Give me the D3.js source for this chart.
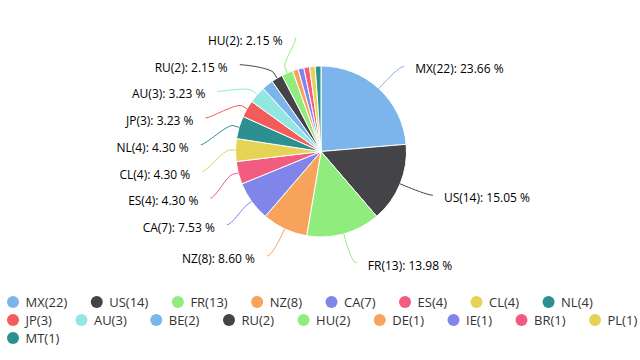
<!DOCTYPE html>
<html><head><meta charset="utf-8">
<script src="https://cdn.jsdelivr.net/npm/d3@7"></script>
<style>body{margin:0;background:#fff} svg{display:block}</style>
</head><body><svg id="chart" width="640" height="360"></svg>
<script>
// ---- data ----
const categories = ["MX","US","FR","NZ","CA","ES","CL","NL","JP","AU","BE","RU","HU","DE","IE","BR","PL","MT"];
const values = [22,14,13,8,7,4,4,4,3,3,2,2,2,1,1,1,1,1];
const palette = ["#7cb5ec","#434348","#90ed7d","#f7a35c","#8085e9","#f15c80","#e4d354","#2b908f","#f45b5b","#91e8e1"];

// ---- layout ----
const W = 640, H = 360;
const cx = 321, cy = 151.5, r = 85.5;
const labelDist = 30, R = r + labelDist;
const slot = 26.7;
const labelMin = 38, labelMax = 267;
const font = "'Open Sans', sans-serif";

const svg = d3.select("#chart");
const total = d3.sum(values);
const data = categories.map((c, i) => ({name: c, value: values[i], index: i, color: palette[i % palette.length]}));
const arcs = d3.pie().value(d => d.value).sort(null)(data);
const arcGen = d3.arc().innerRadius(0).outerRadius(r);

const gPie = svg.append("g").attr("transform", `translate(${cx},${cy})`);
gPie.selectAll("path").data(arcs).join("path")
  .attr("d", arcGen)
  .attr("fill", d => d.data.color)
  .attr("stroke", "#fff").attr("stroke-width", 1).attr("stroke-linejoin", "round");

// label geometry
const labels = arcs.map(a => {
  const mid = (a.startAngle + a.endAngle) / 2;
  const s = Math.sin(mid), c = Math.cos(mid);
  return {
    d: a.data,
    left: mid > Math.PI,
    target: cy - c * R,
    touch: [cx + s * r, cy - c * r],
    brk: [cx + s * (r + labelDist / 5), cy - c * (r + labelDist / 5)]
  };
});

function distribute(items) {
  const L = labelMax - labelMin + slot;
  const cap = Math.floor(L / slot);
  const ranked = items.slice().sort((a, b) => b.d.value - a.d.value); // stable
  ranked.forEach((it, i) => it.visible = i < cap);
  const kept = items.filter(it => it.visible).sort((a, b) => a.target - b.target);
  let groups = kept.map(it => ({items: [it]}));
  const topB = labelMin - slot / 2, botB = labelMax + slot / 2;
  const place = g => {
    const n = g.items.length;
    const mean = d3.mean(g.items, it => it.target);
    let top = mean - n * slot / 2;
    top = Math.max(topB, Math.min(top, botB - n * slot));
    g.top = top;
  };
  groups.forEach(place);
  let changed = true;
  while (changed) {
    changed = false;
    for (let i = 0; i < groups.length - 1; i++) {
      const a = groups[i], b = groups[i + 1];
      if (a.top + a.items.length * slot > b.top + 0.01) {
        const m = {items: a.items.concat(b.items)};
        place(m);
        groups.splice(i, 2, m);
        changed = true;
        break;
      }
    }
  }
  groups.forEach(g => g.items.forEach((it, k) => it.y = g.top + slot / 2 + k * slot));
}
const rightItems = labels.filter(l => !l.left);
const leftItems = labels.filter(l => l.left).reverse();
distribute(rightItems);
distribute(leftItems);

function getX(y, left) {
  const dy = Math.max(-R, Math.min(R, y - cy));
  const dx = Math.sqrt(R * R - dy * dy) + 5;
  return left ? cx - dx : cx + dx;
}

const gLab = svg.append("g");
labels.filter(l => l.visible).forEach(l => {
  const x = getX(l.y, l.left);
  const p = d3.path();
  p.moveTo(x, l.y);
  p.bezierCurveTo(x + (l.left ? 5 : -5), l.y,
    2 * l.brk[0] - l.touch[0], 2 * l.brk[1] - l.touch[1],
    l.brk[0], l.brk[1]);
  p.lineTo(l.touch[0], l.touch[1]);
  gLab.append("path").attr("d", p.toString())
    .attr("fill", "none").attr("stroke", l.d.color).attr("stroke-width", 1);
  gLab.append("text")
    .attr("x", l.left ? x - 12 : x + 11)
    .attr("y", l.y + 2.5)
    .attr("text-anchor", l.left ? "end" : "start")
    .attr("dominant-baseline", "central")
    .attr("font-family", font).attr("font-size", 12).attr("fill", "#000")
    .text(`${l.d.name}(${l.d.value}): ${(l.d.value / total * 100).toFixed(2)} %`);
});

// ---- legend ----
const gLeg = svg.append("g");
const legX0 = 7, legY0 = 302, rowH = 18, itemGap = 23.5, symW = 12, symPad = 6.5;
let lx = legX0, row = 0;
data.forEach(d => {
  const item = gLeg.append("g");
  const t = item.append("text")
    .attr("font-family", font).attr("font-size", 13).attr("fill", "#333333")
    .attr("dominant-baseline", "central")
    .text(`${d.name}(${d.value})`);
  const tw = t.node().getComputedTextLength();
  const w = symW + symPad + tw;
  if (lx > legX0 && lx + w > W) { lx = legX0; row++; }
  const y = legY0 + row * rowH;
  item.append("circle").attr("cx", lx + symW / 2).attr("cy", y).attr("r", symW / 2).attr("fill", d.color);
  t.attr("x", lx + symW + symPad).attr("y", y);
  lx += w + itemGap;
});
</script></body></html>
